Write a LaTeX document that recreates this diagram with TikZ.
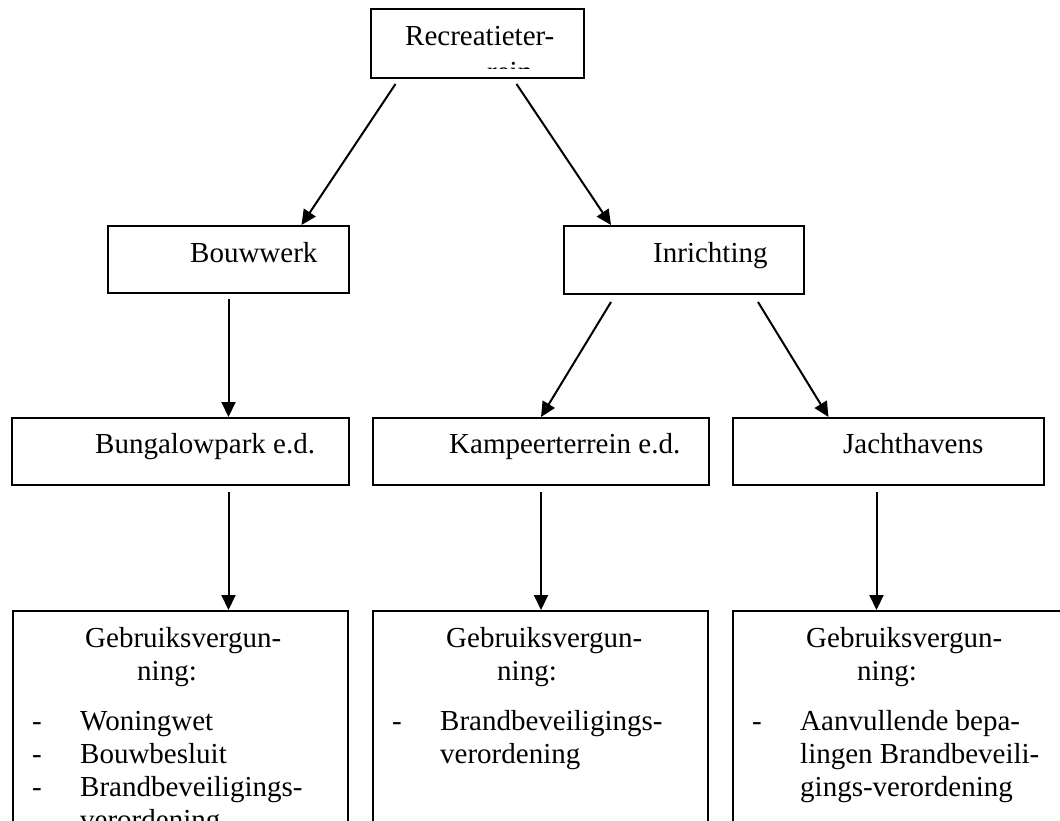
\documentclass[tikz,border=0pt]{standalone}
\usepackage{fontspec}
\setmainfont{Liberation Serif}
\usetikzlibrary{arrows.meta}

\begin{document}
\begin{tikzpicture}[x=1pt,y=-1pt,
    box/.style={draw,line width=2pt,anchor=north west,inner sep=0pt},
    lbl/.style={anchor=base west,inner sep=0pt,font=\fontsize{29}{33}\selectfont},
    arr/.style={line width=2pt,-{Triangle[length=15pt,width=14pt]}}]
  \useasboundingbox (0,0) rectangle (1060,820);

  % top
  \node[box,minimum width=213,minimum height=69] (rec) at (370,8) {};
  \node[lbl] (rectxt) at (405,45) {Recreatieter-};
  \begin{scope}
    \clip (rec.north west) rectangle ([yshift=11pt]rec.south east);
    \node[lbl] (rectxt2) at (487,81) {rein};
  \end{scope}

  % second row
  \node[box,minimum width=241,minimum height=67] (bouw) at (107,225) {};
  \node[lbl] (bouwtxt) at (190,262) {Bouwwerk};
  \node[box,minimum width=240,minimum height=68] (inr) at (563,225) {};
  \node[lbl] (inrtxt) at (653,262) {Inrichting};

  % third row
  \node[box,minimum width=337,minimum height=67] (bung) at (11,417) {};
  \node[lbl] (bungtxt) at (95,453) {Bungalowpark e.d.};
  \node[box,minimum width=336,minimum height=67] (kamp) at (372,417) {};
  \node[lbl] (kamptxt) at (449,453) {Kampeerterrein e.d.};
  \node[box,minimum width=311,minimum height=67] (jacht) at (732,417) {};
  \node[lbl] (jachttxt) at (843,453) {Jachthavens};

  % permits (boxes run past the bottom edge)
  \node[box,minimum width=335,minimum height=240] (gv1) at (12,610) {};
  \node[box,minimum width=335,minimum height=240] (gv2) at (372,610) {};
  \node[box,minimum width=350,minimum height=240] (gv3) at (732,610) {};

  \node[lbl] (gv1head) at (85,647)
    {\begin{tabular}[t]{@{}l@{}}Gebruiksvergun-\\\hspace*{52pt}ning:\end{tabular}};
  \node[lbl] (gv1list) at (32,730)
    {\begin{tabular}[t]{@{}p{48pt}@{}l@{}}-&Woningwet\\-&Bouwbesluit\\
      -&Brandbeveiligings-\\&verordening\end{tabular}};

  \node[lbl] (gv2head) at (446,647)
    {\begin{tabular}[t]{@{}l@{}}Gebruiksvergun-\\\hspace*{51pt}ning:\end{tabular}};
  \node[lbl] (gv2list) at (392,730)
    {\begin{tabular}[t]{@{}p{48pt}@{}l@{}}-&Brandbeveiligings-\\&verordening\end{tabular}};

  \node[lbl] (gv3head) at (806,647)
    {\begin{tabular}[t]{@{}l@{}}Gebruiksvergun-\\\hspace*{51pt}ning:\end{tabular}};
  \node[lbl] (gv3list) at (752,730)
    {\begin{tabular}[t]{@{}p{48pt}@{}l@{}}-&Aanvullende bepa-\\&lingen Brandbeveili-\\
      &gings-verordening\end{tabular}};

  % arrows
  \draw[arr] ([xshift=-82pt,yshift=-5pt]rec.south) -- ([xshift=73pt]bouw.north);
  \draw[arr] ([xshift=39pt,yshift=-5pt]rec.south) -- ([xshift=-73pt]inr.north);
  \draw[arr] ([yshift=-5pt]bouw.south) -- (bouw.south |- bung.north);
  \draw[arr] ([xshift=-73pt,yshift=-7pt]inr.south) -- (kamp.north);
  \draw[arr] ([xshift=74pt,yshift=-7pt]inr.south) -- ([xshift=-60pt]jacht.north);
  \draw[arr] ([xshift=48pt,yshift=-6pt]bung.south) -- ([xshift=48pt]gv1.north);
  \draw[arr] ([yshift=-6pt]kamp.south) -- (kamp.south |- gv2.north);
  \draw[arr] ([xshift=-12pt,yshift=-6pt]jacht.south) -- ([xshift=-12pt]jacht.south |- gv3.north);
\end{tikzpicture}
\end{document}
